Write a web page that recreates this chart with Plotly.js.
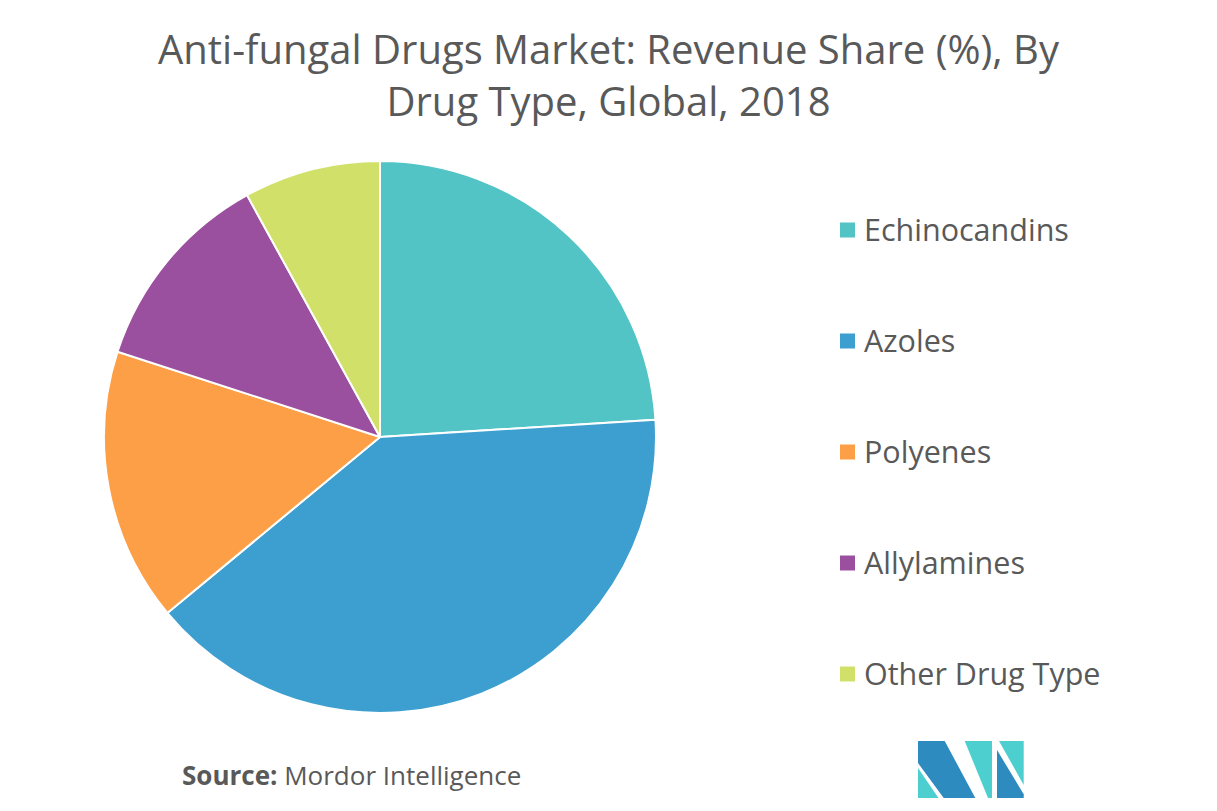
<!DOCTYPE html>
<html>
<head>
<meta charset="utf-8">
<script src="https://cdn.plot.ly/plotly-3.0.1.min.js"></script>
<style>html,body{margin:0;padding:0;background:#fff;}#chart{width:1217px;height:811px;}</style>
</head>
<body>
<div id="chart"></div>
<script>
const categories = ["Echinocandins", "Azoles", "Polyenes", "Allylamines", "Other Drug Type"];
const shares = [24, 40, 16, 12, 8];
const colors = ["#52c4c6", "#3d9fd0", "#fd9f47", "#9b509f", "#d1e068"];
const titleText = "Anti-fungal Drugs Market: Revenue Share (%), By<br>Drug Type, Global, 2018";
const sourceText = "<b>Source:</b> Mordor Intelligence";

const W = 1217, H = 811;
const px = x => x / W;
const py = y => 1 - y / H;
const FONT = "Open Sans";

const trace = {
  type: "pie",
  labels: categories,
  values: shares,
  marker: { colors: colors, line: { color: "#ffffff", width: 2 } },
  sort: false,
  direction: "clockwise",
  rotation: 0,
  textinfo: "none",
  hoverinfo: "label+percent",
  showlegend: false,
  domain: { x: [px(104), px(656)], y: [py(713), py(161)] }
};

const annotations = [];
const shapes = [];
const legendTop = 230, legendStep = 111;
categories.forEach((c, i) => {
  const yc = legendTop + i * legendStep;
  shapes.push({ type: "rect", xref: "paper", yref: "paper",
    x0: px(840), x1: px(855), y0: py(yc + 7.5), y1: py(yc - 7.5),
    fillcolor: colors[i], line: { width: 0 } });
  annotations.push({ xref: "paper", yref: "paper", x: px(862), y: py(yc - 1),
    xanchor: "left", yanchor: "middle", showarrow: false, text: c,
    font: { family: FONT, size: 30.5, color: "#595959" } });
});

annotations.push({ xref: "paper", yref: "paper", x: px(180), y: py(775),
  xanchor: "left", yanchor: "middle", showarrow: false, text: sourceText,
  font: { family: FONT, size: 26, color: "#595959" } });

// logo
const dark = "#2d8bbf", light = "#4dcfcf";
const poly = (pts, col) => {
  const d = pts.map((p, k) => (k ? "L" : "M") + px(p[0]) + "," + py(p[1])).join(" ") + " Z";
  shapes.push({ type: "path", xref: "paper", yref: "paper", path: d, fillcolor: col, line: { width: 0 } });
};
poly([[918,768],[918,798],[938.5,798]], light);
poly([[918,741],[944.7,741],[975.3,798],[943.7,798],[918,763]], dark);
poly([[964.7,741],[992,741],[992,798],[988,798]], light);
poly([[999,741],[1023.7,741],[1023.7,785]], light);
poly([[997,750],[1023.7,794.3],[1023.7,798],[997,798]], dark);

const layout = {
  width: W, height: H,
  margin: { l: 0, r: 0, t: 0, b: 0 },
  paper_bgcolor: "#ffffff",
  title: { text: titleText, x: 0.5, xanchor: "center", y: py(64), yanchor: "middle",
    font: { family: FONT, size: 40, color: "#595959" } },
  showlegend: false,
  shapes: shapes,
  annotations: annotations
};

Plotly.newPlot("chart", [trace], layout, { displayModeBar: false, staticPlot: true });
</script>
</body>
</html>
